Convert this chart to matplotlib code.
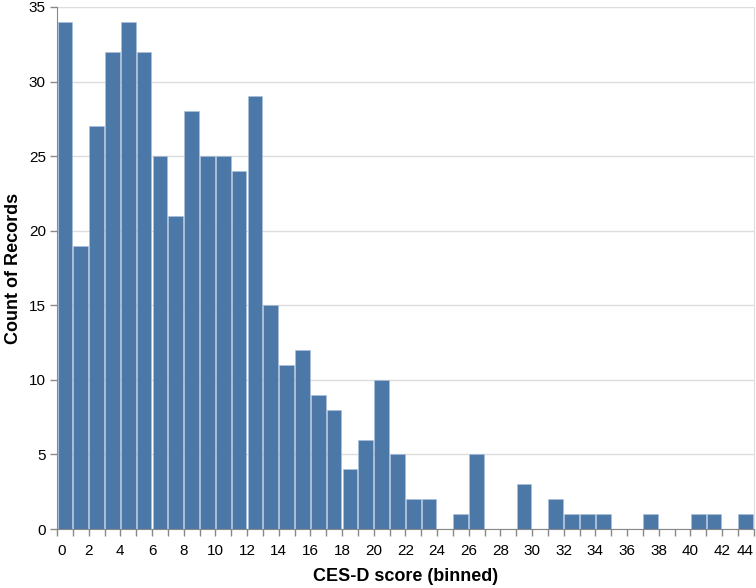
import numpy as np
import matplotlib.pyplot as plt

plt.rcParams['font.family'] = ['Liberation Sans', 'DejaVu Sans']

# histogram of CES-D scores, one bin per integer score
bin_start = np.arange(0, 44)
counts = [34, 19, 27, 32, 34, 32, 25, 21, 28, 25, 25, 24, 29, 15, 11, 12,
          9, 8, 4, 6, 10, 5, 2, 2, 0, 1, 5, 0, 0, 3, 0, 2, 1, 1, 1, 0,
          0, 1, 0, 0, 1, 1, 0, 1]
x_ticks = np.arange(0, 45)
x_labels = [str(v) if v % 2 == 0 else '' for v in x_ticks]
y_ticks = [0, 5, 10, 15, 20, 25, 30, 35]

fig = plt.figure(figsize=(7.56, 5.88), dpi=100)
ax = fig.add_axes([0.0754, 0.1003, 0.9216, 0.8878])

gap = 1.2 / 15.84
ax.bar(bin_start + gap / 2, counts, width=1 - gap, align='edge',
       color='#4c78a8', edgecolor='#a9c0dc', linewidth=0.4, zorder=2)

ax.set_xlim(0, 44)
ax.set_ylim(0, 35)
ax.set_yticks(y_ticks)
ax.set_xticks(x_ticks)
ax.set_xticklabels(x_labels)
labels = ax.get_xticklabels()
labels[0].set_horizontalalignment('left')
labels[-1].set_horizontalalignment('right')

ax.yaxis.grid(True, color='#dddddd', linewidth=1, zorder=0)
ax.set_axisbelow(True)

ax.spines['top'].set_visible(False)
ax.spines['right'].set_color('#dddddd')
ax.spines['left'].set_color('#888888')
ax.spines['bottom'].set_color('#888888')
ax.tick_params(axis='both', colors='#888888', length=5, width=1,
               labelcolor='black', labelsize=11)
ax.tick_params(axis='x', pad=6)
ax.tick_params(axis='y', pad=3)

ax.set_xlabel('CES-D score (binned)', fontsize=13, fontweight='bold', labelpad=7)
ax.set_ylabel('Count of Records', fontsize=13, fontweight='bold', labelpad=5)

fig.savefig('out.png', dpi=100)
